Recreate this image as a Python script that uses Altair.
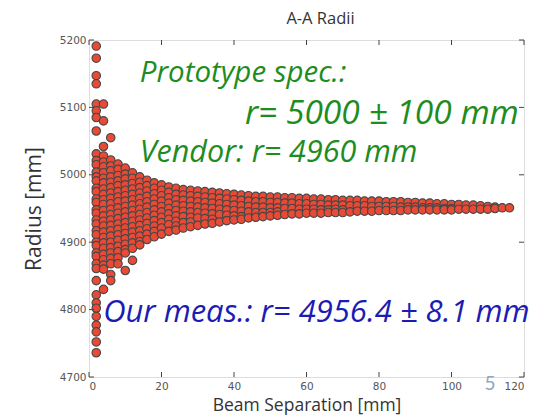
import altair as alt
import pandas as pd

# ---- data: beam separation columns (mm) and measured radii (mm) per column ----
separation = [2, 4, 6, 8, 10, 12, 14, 16, 18, 20, 22, 24, 26, 28, 30, 32, 34, 36, 38, 40,
              42, 44, 46, 48, 50, 52, 54, 56, 58, 60, 62, 64, 66, 68, 70, 72, 74, 76, 78, 80,
              82, 84, 86, 88, 90, 92, 94, 96, 98, 100, 102, 104, 106, 108, 110, 112, 114, 116]

radii = [
    [5191, 5173, 5147, 5135, 5105, 5095, 5085, 5065, 5031, 5021, 5015, 5004, 4997, 4991, 4980,
     4975, 4964, 4959, 4948, 4943, 4933, 4927, 4917, 4911, 4900, 4895, 4884, 4879, 4868, 4861,
     4843, 4822, 4810, 4802, 4790, 4777, 4767, 4752, 4736],
    [5105, 5080, 5042, 5028, 5019, 5012, 5003, 4995, 4988, 4979, 4971, 4963, 4956, 4947, 4939,
     4931, 4924, 4915, 4907, 4899, 4891, 4882, 4874, 4866, 4860, 4830],
    [5055, 5022, 5013, 5006, 4997, 4989, 4981, 4973, 4965, 4957, 4949, 4941, 4933, 4925, 4917,
     4909, 4900, 4892, 4884, 4876, 4868, 4852, 4843],
    [5016, 5008, 4999, 4991, 4984, 4975, 4967, 4960, 4951, 4943, 4935, 4927, 4919, 4911, 4903,
     4894, 4886, 4877, 4868],
    [5010, 5001, 4994, 4985, 4977, 4969, 4961, 4953, 4945, 4937, 4929, 4921, 4913, 4905, 4897,
     4889, 4884, 4858],
    [5003, 4995, 4987, 4979, 4971, 4963, 4955, 4947, 4939, 4931, 4923, 4915, 4907, 4899, 4891, 4873],
    [4997, 4989, 4981, 4973, 4965, 4957, 4949, 4941, 4933, 4925, 4917, 4909, 4901, 4896],
    [4992, 4984, 4976, 4968, 4960, 4952, 4944, 4936, 4928, 4920, 4912, 4904],
    [4988, 4980, 4972, 4964, 4956, 4948, 4940, 4932, 4924, 4916, 4908],
    [4985, 4977, 4969, 4961, 4953, 4945, 4937, 4929, 4921, 4912],
    [4982, 4974, 4966, 4958, 4950, 4942, 4934, 4926, 4916],
    [4980, 4971, 4963, 4955, 4947, 4939, 4931, 4924, 4918],
    [4978, 4970, 4962, 4954, 4946, 4938, 4929, 4921],
    [4977, 4969, 4961, 4953, 4945, 4937, 4930, 4923],
    [4976, 4968, 4960, 4952, 4944, 4936, 4925],
    [4975, 4967, 4959, 4951, 4943, 4935, 4927],
    [4974, 4966, 4958, 4950, 4942, 4934, 4928],
    [4973, 4965, 4957, 4949, 4941, 4930],
    [4972, 4964, 4956, 4948, 4940, 4932],
    [4971, 4963, 4955, 4947, 4939, 4933],
    [4970, 4962, 4954, 4946, 4938, 4934],
    [4969, 4961, 4953, 4945, 4936],
    [4968, 4960, 4952, 4944, 4937],
    [4968, 4960, 4952, 4944, 4938],
    [4967, 4959, 4951, 4944, 4939],
    [4967, 4959, 4951, 4945, 4940],
    [4966, 4958, 4950, 4941],
    [4966, 4958, 4950, 4942],
    [4965, 4957, 4949, 4942],
    [4965, 4957, 4949, 4943],
    [4964, 4956, 4949, 4943],
    [4964, 4956, 4948, 4943],
    [4963, 4955, 4948, 4944],
    [4963, 4955, 4949, 4944],
    [4962, 4955, 4948, 4944],
    [4962, 4954, 4945],
    [4962, 4954, 4946],
    [4961, 4954, 4946],
    [4961, 4953, 4946],
    [4961, 4953, 4947],
    [4960, 4953, 4947],
    [4960, 4953, 4947],
    [4960, 4952, 4947],
    [4959, 4952, 4948],
    [4959, 4952, 4948],
    [4958, 4951, 4948],
    [4958, 4951, 4948],
    [4957, 4951, 4948],
    [4957, 4950, 4948],
    [4956, 4950, 4948],
    [4956, 4949],
    [4955, 4949],
    [4955, 4949],
    [4954, 4949],
    [4953, 4949],
    [4952, 4950],
    [4951],
    [4951],
]

x_ticks = [0, 20, 40, 60, 80, 100, 120]
y_ticks = [4700, 4800, 4900, 5000, 5100, 5200]

notes_text = ["Prototype spec.:", "r= 5000 \u00b1 100 mm", "Vendor: r= 4960 mm",
              "Our meas.: r= 4956.4 \u00b1 8.1 mm"]
notes_x = [14, 43, 14, 3.9]
notes_y = [5151, 5090, 5033, 4795]
notes_color = ["#1e8c1e", "#1e8c1e", "#1e8c1e", "#1c1cb4"]
notes_fontsize = [29.5, 33.5, 30.5, 31]

rows = []
for sx, ys in zip(separation, radii):
    for r in ys:
        rows.append({"sep": sx, "radius": r})
df = pd.DataFrame(rows)

W, H = 435, 337

xsc = alt.Scale(domain=[0, 120], nice=False)
ysc = alt.Scale(domain=[4700, 5200], nice=False)

points = alt.Chart(df).mark_circle(
    size=72, color="#e84a36", opacity=1, stroke="#474747", strokeWidth=1.1
).encode(
    x=alt.X("sep:Q", scale=xsc,
            axis=alt.Axis(values=x_ticks, title="Beam Separation [mm]", grid=False,
                          ticks=False, domain=False, labelFont="DejaVu Sans",
                          labelFontSize=10.5, labelColor="#555", labelPadding=4,
                          titleFont="Open Sans", titleFontSize=17.5, titleFontWeight="normal",
                          titleColor="#333", titlePadding=5)),
    y=alt.Y("radius:Q", scale=ysc,
            axis=alt.Axis(values=y_ticks, format="d", title="Radius [mm]", grid=False,
                          ticks=False, domain=False, labelFont="DejaVu Sans",
                          labelFontSize=10.5, labelColor="#555", labelPadding=3,
                          titleFont="Open Sans", titleFontSize=21, titleFontWeight="normal",
                          titleColor="#333", titlePadding=15)),
)

xt = pd.DataFrame({"t": x_ticks})
yt = pd.DataFrame({"t": y_ticks})
tick_style = dict(color="#444", strokeWidth=1)
xb = alt.Chart(xt).mark_rule(**tick_style).encode(
    x=alt.X("t:Q", scale=xsc), y=alt.value(H), y2=alt.value(H - 5))
xtp = alt.Chart(xt).mark_rule(**tick_style).encode(
    x=alt.X("t:Q", scale=xsc), y=alt.value(0), y2=alt.value(5))
yl = alt.Chart(yt).mark_rule(**tick_style).encode(
    y=alt.Y("t:Q", scale=ysc), x=alt.value(0), x2=alt.value(5))
yr = alt.Chart(yt).mark_rule(**tick_style).encode(
    y=alt.Y("t:Q", scale=ysc), x=alt.value(W), x2=alt.value(W - 5))

ann_layers = []
for txt, nx, ny, col, fs in zip(notes_text, notes_x, notes_y, notes_color, notes_fontsize):
    ann_layers.append(
        alt.Chart(pd.DataFrame({"text": [txt], "x": [nx], "y": [ny]})).mark_text(
            font="Open Sans", fontStyle="italic", fontSize=fs, color=col,
            align="left", baseline="middle"
        ).encode(x=alt.X("x:Q", scale=xsc), y=alt.Y("y:Q", scale=ysc), text="text:N")
    )

page_no = alt.Chart(pd.DataFrame({"p": ["5"]})).mark_text(
    font="Lato", fontSize=19, color="#8ea6c4", align="center", baseline="middle"
).encode(x=alt.value(401), y=alt.value(344), text="p:N")

chart = alt.layer(points, xb, xtp, yl, yr, *ann_layers, page_no).properties(
    width=W, height=H,
    title=alt.TitleParams("A-A Radii", font="Open Sans", fontSize=16.5, fontWeight="normal",
                          color="#333", offset=8, dx=14),
    autosize=alt.AutoSizeParams(type="none"),
    padding={"left": 81, "top": 32, "right": 10, "bottom": 39},
).configure_view(stroke="#666", strokeWidth=1.5).configure(background="white")

chart.save("out.html", embed_options={"renderer": "svg", "actions": False})
